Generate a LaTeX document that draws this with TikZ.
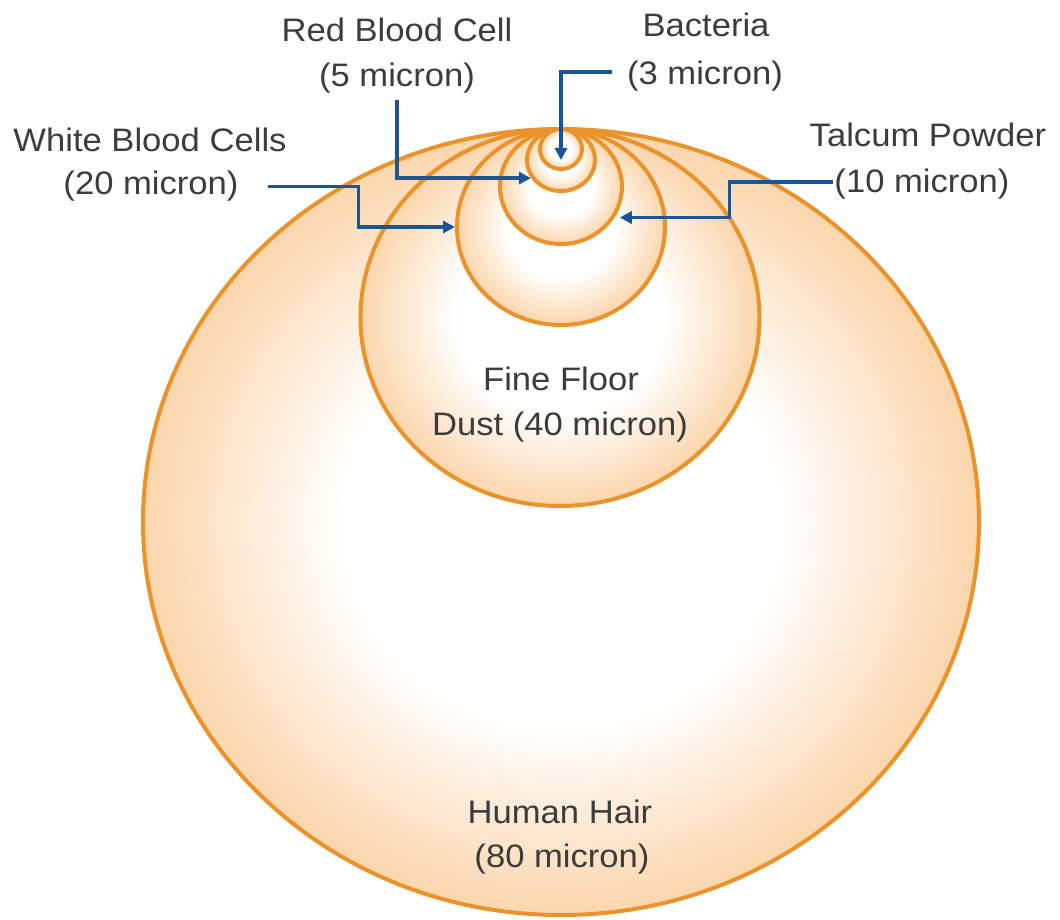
\documentclass[tikz,border=0pt]{standalone}
\usepackage{fontspec}
\setmainfont{Liberation Sans}
\usetikzlibrary{shapes.geometric,arrows.meta}
\definecolor{ringorange}{RGB}{236,146,42}
\definecolor{peach}{RGB}{251,214,172}
\definecolor{arrowblue}{RGB}{24,86,150}
\definecolor{txtgrey}{RGB}{60,60,60}
\pgfdeclareradialshading{glow}{\pgfpoint{0bp}{0bp}}{color(0bp)=(white); color(13bp)=(white); color(25bp)=(peach); color(50bp)=(peach)}
\newcommand\lab[1]{\scalebox{1.065}[1]{#1}}
\begin{document}
\begin{tikzpicture}[x=1pt,y=-1pt,
  ringnode/.style={ellipse, draw=ringorange, line width=4pt, inner sep=0pt, shade, shading=glow},
  lbl/.style={anchor=base, inner sep=0pt, text=txtgrey, font=\fontsize{32.5}{40}\selectfont},
  pointer/.style={draw=arrowblue, line width=3.2pt, -{Triangle[length=12pt,width=12pt]}}]
\useasboundingbox (0,0) rectangle (1060,920);
% nested particles, all touching at the top
\node[ringnode, minimum width=836pt, minimum height=786pt] (c80) at (561,522) {};
\node[ringnode, minimum width=399pt, minimum height=377pt] (c40) at (560,317.5) {};
\node[ringnode, minimum width=208pt, minimum height=196pt] (c20) at (561,227) {};
\node[ringnode, minimum width=122pt, minimum height=115pt] (c10) at (561,186.5) {};
\node[ringnode, minimum width=68pt, minimum height=62pt] (c5) at (561,160) {};
\node[ringnode, minimum width=42pt, minimum height=40pt] (c3) at (561,149) {};
% labels
\node[lbl] (r1) at (397,42) {\lab{Red Blood Cell}};
\node[lbl] (r2) at (397,87) {\lab{(5 micron)}};
\node[lbl] (b1) at (706,37) {\lab{Bacteria}};
\node[lbl] (b2) at (705,85) {\lab{(3 micron)}};
\node[lbl] (w1) at (150,152) {\lab{White Blood Cells}};
\node[lbl] (w2) at (151,195) {\lab{(20 micron)}};
\node[lbl] (t1) at (928,147) {\lab{Talcum Powder}};
\node[lbl] (t2) at (922,193) {\lab{(10 micron)}};
\node[lbl] (f1) at (561,390) {\lab{Fine Floor}};
\node[lbl] (f2) at (560,435) {\lab{Dust (40 micron)}};
\node[lbl] (h1) at (560,823) {\lab{Human Hair}};
\node[lbl] (h2) at (562,867) {\lab{(80 micron)}};
% pointers
\draw[pointer] ([xshift=-15pt,yshift=4.6pt]b2.west) -| ([yshift=-11pt]c3.center);
\draw[pointer] ([yshift=-6pt]r2.south) |- (c5.211);
\draw[pointer] ([xshift=-1pt,yshift=2.6pt]t2.west) -- ++(-104,0) |- ([xshift=5pt]c10.-30);
\draw[pointer] ([xshift=29pt]w2.east) -- ++(91,0) |- (c20.west);
\end{tikzpicture}
\end{document}
